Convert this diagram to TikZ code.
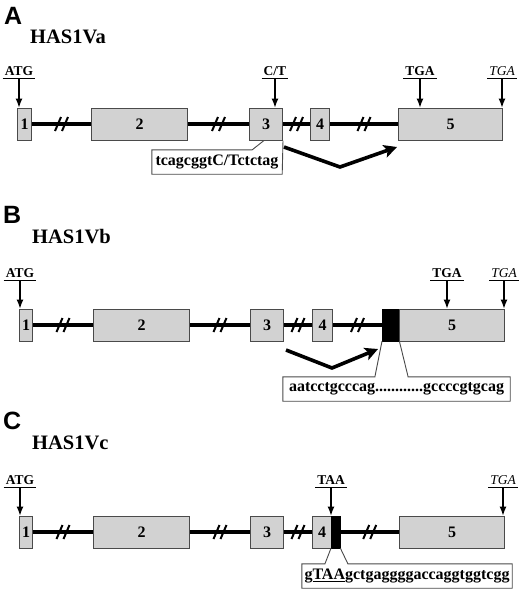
\documentclass[tikz,border=0pt]{standalone}
\usepackage{fontspec}
\setmainfont{Liberation Serif}
\newfontfamily\panelfont{Liberation Sans}
\usetikzlibrary{arrows.meta,positioning,calc}
\definecolor{exongray}{HTML}{D2D2D2}
\definecolor{edgegray}{HTML}{4A4A4A}
\tikzset{
  exon/.style  ={draw=edgegray,line width=1pt,fill=exongray,minimum height=32pt,
                 inner sep=0pt,anchor=west,font=\fontsize{16}{16}\selectfont\bfseries},
  blk/.style   ={draw=black,fill=black,minimum height=32pt,inner sep=0pt,anchor=west},
  intron/.style={line width=4pt,black},
  slash/.style ={line width=2pt,black},
  codon/.style ={font=\fontsize{13.5}{13.5}\selectfont\bfseries,inner xsep=2pt,inner ysep=3pt,
                 text depth=0pt},
  icodon/.style={codon,font=\fontsize{13.5}{13.5}\selectfont\itshape},
  uline/.style ={line width=.9pt},
  pin/.style   ={-{Latex[length=9pt,width=7pt]},line width=1.1pt},
  splice/.style={-{Stealth[length=13pt,width=13pt,inset=3pt]},line width=3.6pt,line join=miter},
  seq/.style   ={font=\fontsize{16}{16}\selectfont\bfseries,inner sep=0pt,minimum height=24pt},
  co/.style    ={draw=edgegray,line width=.9pt},
  panel/.style ={font=\panelfont\fontsize{25}{25}\selectfont\bfseries,anchor=west,inner sep=0pt},
  title/.style ={font=\fontsize{20.5}{20.5}\selectfont\bfseries,anchor=west,inner sep=0pt},
}

\begin{document}
\begin{tikzpicture}[x=1pt,y=-1pt]
  \useasboundingbox (0,0) rectangle (520,590);

  % --- A: HAS1Va ---
  \node[panel] (pA) at (4,16) {A};
  \node[title] (tA) at (30,37) {HAS1Va};
  \node[exon,minimum width=14pt] (a1) at (17,124) {1};
  \node[exon,minimum width=96pt] (a2) at (91,124) {2};
  \node[exon,minimum width=33pt] (a3) at (249,124) {3};
  \node[exon,minimum width=19pt] (a4) at (310,124) {4};
  \node[exon,minimum width=104pt] (a5) at (398,124) {5};
  \draw[intron] (a1.east) -- coordinate[midway] (ha1) (a2.west);
  \draw[intron] (a2.east) -- coordinate[midway] (ha2) (a3.west);
  \draw[intron] (a3.east) -- coordinate[midway] (ha3) (a4.west);
  \draw[intron] (a4.east) -- coordinate[midway] (ha4) (a5.west);

  \node[codon] (atgA) at (19,71) {ATG};
  \node[codon] (ctA) at (275,71) {C/T};
  \node[codon] (tgaA) at (420,71) {TGA};
  \node[icodon] (tgaA2) at (502,71) {TGA};

  % callout + splice
  \node[seq,minimum width=130pt] (sqA) at (217,162) {tcagcggtC/Tctctag};
  \coordinate (fA) at ($(sqA.north west)!.77!(sqA.north east)$);
  \draw[co] ([xshift=-2pt]a3.south) -- (fA) -- (sqA.north west) -- (sqA.south west)
        -- (sqA.south east) -- (a3.south east);
  \coordinate (sA0) at (284,147);
  \coordinate (sA1) at (340,167);
  \coordinate (sA2) at (397,147);
  \draw[splice] (sA0) -- (sA1) -- (sA2);

  % --- B: HAS1Vb ---
  \node[panel] (pB) at (3,215) {B};
  \node[title] (tB) at (32,237) {HAS1Vb};
  \node[exon,minimum width=13pt] (b1) at (19,325) {1};
  \node[exon,minimum width=96pt] (b2) at (93,325) {2};
  \node[exon,minimum width=33pt] (b3) at (250,325) {3};
  \node[exon,minimum width=20pt] (b4) at (312,325) {4};
  \node[blk,minimum width=17pt] (bk) at (382,325) {};
  \node[exon,minimum width=105pt] (b5) at (399,325) {5};
  \draw[intron] (b1.east) -- coordinate[midway] (hb1) (b2.west);
  \draw[intron] (b2.east) -- coordinate[midway] (hb2) (b3.west);
  \draw[intron] (b3.east) -- coordinate[midway] (hb3) (b4.west);
  \draw[intron] (b4.east) -- coordinate[midway] (hb4) (bk.west);

  \node[codon] (atgB) at (20,273) {ATG};
  \node[codon] (tgaB) at (447,273) {TGA};
  \node[icodon] (tgaB2) at (504,273) {TGA};

  \node[seq,minimum width=227pt] (sqB) at (396.5,389) {aatcctgcccag............gccccgtgcag};
  \coordinate (fB1) at ($(sqB.north west)!.405!(sqB.north east)$);
  \coordinate (fB2) at ($(sqB.north west)!.551!(sqB.north east)$);
  \draw[co] (bk.south west) -- (fB1) -- (sqB.north west) -- (sqB.south west)
        -- (sqB.south east) -- (sqB.north east) -- (fB2) -- (bk.south east);
  \coordinate (sB0) at (286,350);
  \coordinate (sB1) at (332,368);
  \coordinate (sB2) at (378,349);
  \draw[splice] (sB0) -- (sB1) -- (sB2);

  % --- C: HAS1Vc ---
  \node[panel] (pC) at (3,421) {C};
  \node[title] (tC) at (32,443) {HAS1Vc};
  \node[exon,minimum width=13pt] (c1) at (19,532) {1};
  \node[exon,minimum width=96pt] (c2) at (93,532) {2};
  \node[exon,minimum width=33pt] (c3) at (250,532) {3};
  \node[exon,minimum width=19pt] (c4) at (312,532) {4};
  \node[blk,minimum width=9pt] (ck) at (331,532) {};
  \node[exon,minimum width=105pt] (c5) at (399,532) {5};
  \draw[intron] (c1.east) -- coordinate[midway] (hc1) (c2.west);
  \draw[intron] (c2.east) -- coordinate[midway] (hc2) (c3.west);
  \draw[intron] (c3.east) -- coordinate[midway] (hc3) (c4.west);
  \draw[intron] (ck.east) -- coordinate[midway] (hc4) (c5.west);

  \node[codon] (atgC) at (20,480) {ATG};
  \node[codon] (taaC) at (331,480) {TAA};
  \node[icodon] (tgaC2) at (503,480) {TGA};

  \node[seq,minimum width=210pt] (sqC) at (407,576) {g\underline{TAA}gctgaggggaccaggtggtcgg};
  \coordinate (fC1) at ($(sqC.north west)!.11!(sqC.north east)$);
  \coordinate (fC2) at ($(sqC.north west)!.219!(sqC.north east)$);
  \draw[co] (ck.south west) -- (fC1) -- (sqC.north west) -- (sqC.south west)
        -- (sqC.south east) -- (sqC.north east) -- (fC2) -- (ck.south east);

  % break marks and codon arrows
  \foreach \h in {ha1,ha2,ha3,ha4,hb1,hb2,hb3,hb4,hc1,hc2,hc3,hc4}{
    \draw[slash] ($(\h)+(-6.5,7)$) -- ++(6,-14);
    \draw[slash] ($(\h)+(0.5,7)$) -- ++(6,-14);
  }
  \foreach \n/\e in {atgA/a1,ctA/a3,tgaA/a5,tgaA2/a5,atgB/b1,tgaB/b5,tgaB2/b5,
                     atgC/c1,taaC/c4,tgaC2/c5}{
    \draw[uline] (\n.south west) -- (\n.south east);
    \draw[pin] (\n.south) -- (\n.south |- \e.north);
  }
\end{tikzpicture}
\end{document}
